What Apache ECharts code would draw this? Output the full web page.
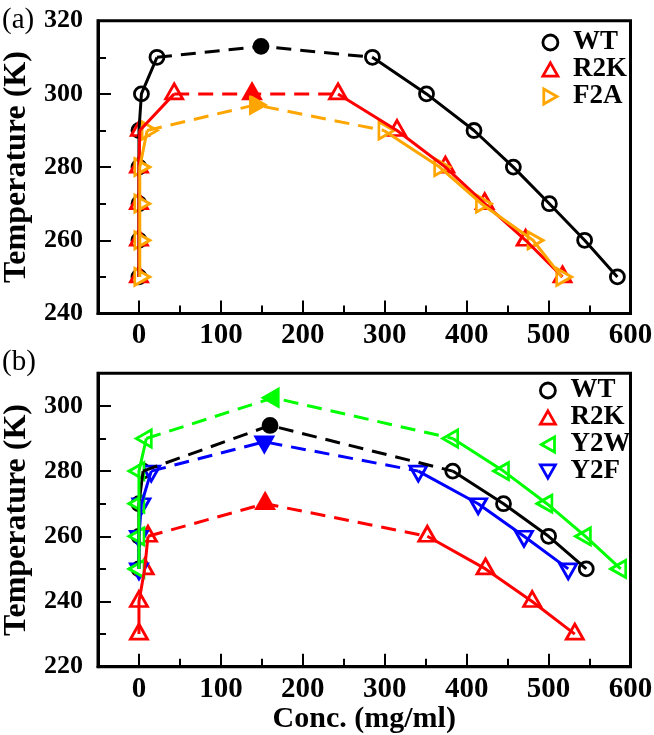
<!DOCTYPE html>
<html><head><meta charset="utf-8">
<script src="https://cdn.jsdelivr.net/npm/echarts@6/dist/echarts.min.js"></script>
<style>html,body{margin:0;padding:0;background:#fff}#c{width:654px;height:735px}</style>
</head><body><div id="c"></div>
<script>
// ---------------- data ----------------
const xTicks = [0, 100, 200, 300, 400, 500, 600];
const xMinorTicks = [50, 150, 250, 350, 450, 550];
const yTicksA = [240, 260, 280, 300, 320];
const yMinorTicksA = [250, 270, 290, 310];
const yTicksB = [220, 240, 260, 280, 300];
const yMinorTicksB = [230, 250, 270, 290];

// Panel (a)
const wtA_conc  = [0, 0, 0, 0, 0, 3, 22, 149, 285, 351, 409, 457, 501, 544, 584];
const wtA_temp  = [250, 260, 270, 280, 290, 300, 310, 313, 310, 300, 290, 280, 270, 260, 250];
const r2kA_conc = [0, 0, 0, 0, 1, 43, 138, 243, 315, 374, 422, 472, 517];
const r2kA_temp = [250, 260, 270, 280, 290, 300, 300, 300, 290, 280, 270, 260, 250];
const f2aA_conc = [1, 1, 1, 1, 10, 142, 299, 367, 418, 481, 516];
const f2aA_temp = [250, 260, 270, 280, 290, 297, 290, 280, 270, 260, 250];

// Panel (b)
const wtB_conc  = [0, 0, 0, 5, 160, 383, 445, 500, 546];
const wtB_temp  = [250, 260, 270, 280, 294, 280, 270, 260, 250];
const r2kB_conc = [0, 0, 7, 11, 154, 352, 423, 480, 532];
const r2kB_temp = [230, 240, 250, 260, 270, 260, 250, 240, 230];
const y2wB_conc = [0, 0, 0, 0, 9, 164, 383, 445, 498, 545, 588];
const y2wB_temp = [250, 260, 270, 280, 290, 302.5, 290, 280, 270, 260, 250];
const y2fB_conc = [0, 0, 3, 15, 153, 341, 414, 470, 524];
const y2fB_temp = [250, 260, 270, 280, 289, 280, 270, 260, 250];

// ---------------- styling / structure ----------------
const FONT = '"Liberation Serif", "Times New Roman", "DejaVu Serif", serif';
const C = { WT: '#000000', R2K: '#ff0000', F2A: '#ffa500', Y2W: '#00ff00', Y2F: '#0000ff' };
const SHAPES = {
  circle: { symbol: 'circle', size: 14, rot: 0, off: [0, 0], icon: 'circle' },
  up:     { symbol: 'triangle', size: [17, 15], rot: 0, off: [0, -2.5], icon: 'path://M8.5,0L17,15L0,15Z' },
  right:  { symbol: 'triangle', size: [17, 15], rot: -90, off: [2.5, 0], icon: 'path://M0,0L15,8.5L0,17Z' },
  left:   { symbol: 'triangle', size: [17, 15], rot: 90, off: [-2.5, 0], icon: 'path://M15,0L0,8.5L15,17Z' },
  down:   { symbol: 'triangle', size: [17, 15], rot: 180, off: [0, 2.5], icon: 'path://M0,0L17,0L8.5,15Z' }
};

// dash: [start index, end index] of the dashed part; filled: index of filled marker
const panels = [
  [
    { name: 'WT',  conc: wtA_conc,  temp: wtA_temp,  dash: [6, 8], filled: 7, shape: 'circle' },
    { name: 'R2K', conc: r2kA_conc, temp: r2kA_temp, dash: [5, 7], filled: 6, shape: 'up' },
    { name: 'F2A', conc: f2aA_conc, temp: f2aA_temp, dash: [4, 6], filled: 5, shape: 'right' }
  ],
  [
    { name: 'WT',  conc: wtB_conc,  temp: wtB_temp,  dash: [3, 5], filled: 4, shape: 'circle' },
    { name: 'R2K', conc: r2kB_conc, temp: r2kB_temp, dash: [3, 5], filled: 4, shape: 'up' },
    { name: 'Y2F', conc: y2fB_conc, temp: y2fB_temp, dash: [3, 5], filled: 4, shape: 'down' },
    { name: 'Y2W', conc: y2wB_conc, temp: y2wB_temp, dash: [4, 6], filled: 5, shape: 'left' }
  ]
];
const legendOrder = [['WT', 'R2K', 'F2A'], ['WT', 'R2K', 'Y2W', 'Y2F']];

const series = [];
panels.forEach((sets, gi) => {
  sets.forEach(s => {
    const col = C[s.name];
    const pts = s.conc.map((c, i) => [c, s.temp[i]]);
    const segs = [
      [0, s.dash[0], 'solid'],
      [s.dash[0], s.dash[1], [15, 9]],
      [s.dash[1], pts.length - 1, 'solid']
    ];
    segs.forEach(([a, b, t]) => {
      series.push({
        type: 'line', name: s.name, xAxisIndex: gi * 2, yAxisIndex: gi * 2,
        data: pts.slice(a, b + 1), symbol: 'none', silent: true,
        lineStyle: { color: col, width: 3, type: t }, itemStyle: { color: col }
      });
    });
    const sh = SHAPES[s.shape];
    series.push({
      type: 'scatter', name: s.name, xAxisIndex: gi * 2, yAxisIndex: gi * 2,
      symbol: sh.symbol, symbolSize: sh.size, symbolRotate: sh.rot, symbolOffset: sh.off,
      silent: true,
      itemStyle: { color: '#ffffff', borderColor: col, borderWidth: 2.8, opacity: 1 },
      data: pts.map((p, i) => i === s.filled
        ? { value: p, itemStyle: { color: col } }
        : { value: p })
    });
  });
});

function legendData(gi) {
  return legendOrder[gi].map(n => {
    const s = panels[gi].find(x => x.name === n);
    const sh = SHAPES[s.shape];
    return { name: n, icon: sh.icon,
      itemStyle: { color: '#ffffff', borderColor: C[n], borderWidth: 2.8 } };
  });
}

const grids = [
  { left: 98, top: 20.7, width: 532.5, height: 292.8 },
  { left: 98, top: 373.3, width: 532.5, height: 293.4 }
].map(g => Object.assign(g, { show: true, borderColor: '#000', borderWidth: 3, backgroundColor: 'transparent', outerBoundsMode: 'none', containLabel: false }));

const tickStyle = { color: '#000', width: 2 };
const xAxis = [], yAxis = [];
[0, 1].forEach(gi => {
  xAxis.push({
    gridIndex: gi, type: 'value', min: -50, max: 600, position: 'bottom',
    name: gi === 1 ? 'Conc. (mg/ml)' : '', nameLocation: 'middle', nameGap: 36,
    nameTextStyle: { fontFamily: FONT, fontWeight: 'bold', fontSize: 30, color: '#000' },
    axisLine: { show: true, onZero: false, lineStyle: { color: '#000', width: 3 } },
    axisTick: { show: true, inside: true, length: 13, lineStyle: tickStyle, customValues: xTicks },
    axisLabel: { show: true, customValues: xTicks, margin: 8, fontFamily: FONT, fontWeight: 'bold', fontSize: 29, color: '#000' },
    splitLine: { show: false }
  });
  xAxis.push({
    gridIndex: gi, type: 'value', min: -50, max: 600, position: 'bottom',
    axisLine: { show: false, onZero: false },
    axisTick: { show: true, inside: true, length: 8, lineStyle: tickStyle, customValues: xMinorTicks },
    axisLabel: { show: false }, splitLine: { show: false }
  });
  const yMin = gi === 0 ? 240 : 220, yMax = gi === 0 ? 320 : 310;
  const yt = gi === 0 ? yTicksA : yTicksB, ym = gi === 0 ? yMinorTicksA : yMinorTicksB;
  yAxis.push({
    gridIndex: gi, type: 'value', min: yMin, max: yMax, position: 'left',
    name: 'Temperature (K)', nameLocation: 'middle', nameGap: 51,
    nameTextStyle: { fontFamily: FONT, fontWeight: 'bold', fontSize: 32, color: '#000' },
    axisLine: { show: true, onZero: false, lineStyle: { color: '#000', width: 3 } },
    axisTick: { show: true, inside: true, length: 13, lineStyle: tickStyle, customValues: yt },
    axisLabel: { show: true, customValues: yt, margin: 15, fontFamily: FONT, fontWeight: 'bold', fontSize: 26, color: '#000' },
    splitLine: { show: false }
  });
  yAxis.push({
    gridIndex: gi, type: 'value', min: yMin, max: yMax, position: 'left',
    axisLine: { show: false, onZero: false },
    axisTick: { show: true, inside: true, length: 8, lineStyle: tickStyle, customValues: ym },
    axisLabel: { show: false }, splitLine: { show: false }
  });
});

const legendCommon = {
  orient: 'vertical', padding: 0, itemGap: 0, itemWidth: 15, itemHeight: 15,
  selectedMode: false,
  textStyle: { fontFamily: FONT, fontWeight: 'bold', fontSize: 27, color: '#000', lineHeight: 26.3, padding: [0, 0, 0, 10] }
};

const chart = echarts.init(document.getElementById('c'), null, { renderer: 'canvas', width: 654, height: 735 });
chart.setOption({
  animation: false,
  backgroundColor: '#ffffff',
  grid: grids,
  xAxis: xAxis,
  yAxis: yAxis,
  legend: [
    Object.assign({}, legendCommon, { left: 541.5, top: 29, data: legendData(0) }),
    Object.assign({}, legendCommon, { left: 539, top: 377, data: legendData(1) })
  ],
  graphic: [
    { type: 'text', left: 2, top: 6, style: { text: '(a)', font: '29px "Liberation Serif", serif', fill: '#000' } },
    { type: 'text', left: 2, top: 348, style: { text: '(b)', font: '29px "Liberation Serif", serif', fill: '#000' } }
  ],
  series: series
});
</script>
</body></html>
